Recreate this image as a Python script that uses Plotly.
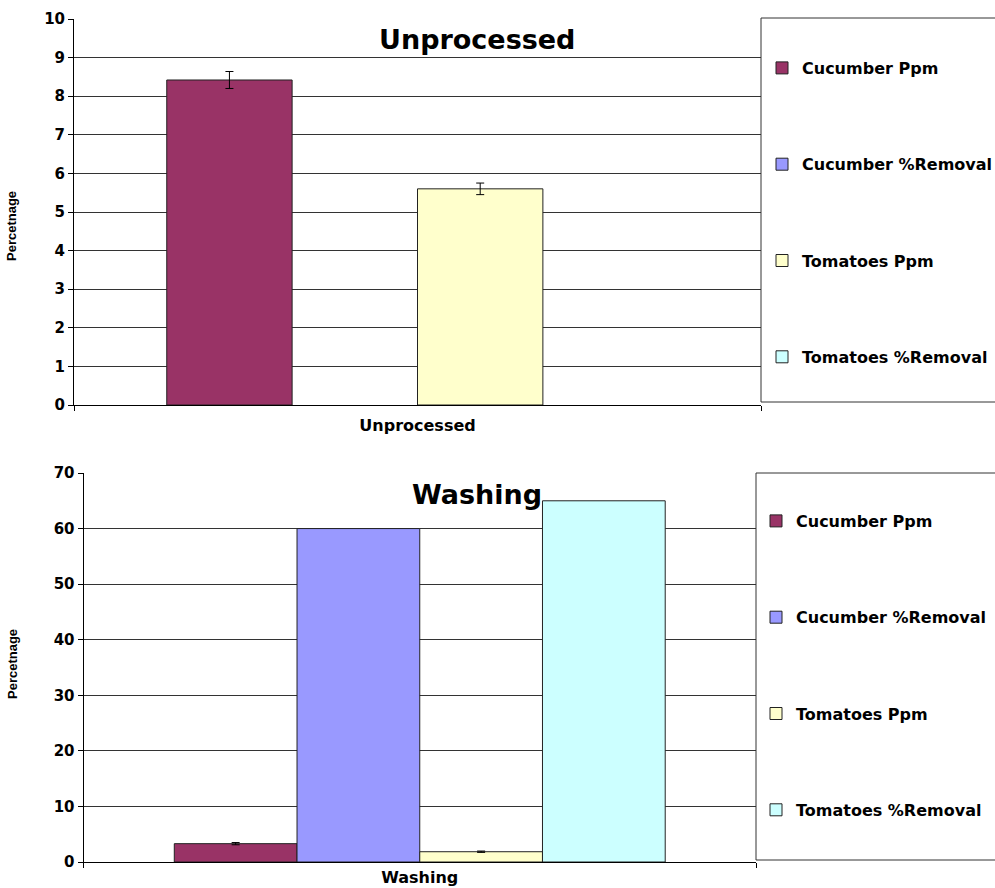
import plotly.graph_objects as go

# Data
series_names = ["Cucumber Ppm", "Cucumber %Removal", "Tomatoes Ppm", "Tomatoes %Removal"]
series_colors = ["#993366", "#9999FF", "#FFFFCC", "#CCFFFF"]

unprocessed_category = ["Unprocessed"]
unprocessed_values = [8.42, None, 5.60, None]
unprocessed_errors = [0.22, None, 0.15, None]

washing_category = ["Washing"]
washing_values = [3.3, 60, 1.85, 65]
washing_errors = [0.2, None, 0.12, None]

y_title = "Percetnage"
W, H = 995, 888
FONT = "DejaVu Sans"


def px_x(x):
    return x / W


def px_y(y):
    return (H - y) / H


fig = go.Figure()

panels = [
    (unprocessed_category, unprocessed_values, unprocessed_errors, "x", "y", "legend", "top"),
    (washing_category, washing_values, washing_errors, "x2", "y2", "legend2", "bot"),
]

for cats, vals, errs, xa, ya, leg, tag in panels:
    for name, color, v, e in zip(series_names, series_colors, vals, errs):
        err = None
        if e is not None:
            err = dict(type="data", array=[e], visible=True, color="black",
                       thickness=1, width=4)
        fig.add_trace(go.Bar(
            x=cats, y=[v], name=name,
            marker=dict(color=color, line=dict(color="#222222", width=1)),
            error_y=err,
            xaxis=xa, yaxis=ya,
            legend=leg, legendgroup=f"{tag}-{name}",
            hoverinfo="skip",
        ))

xtick_font = dict(family=FONT, size=16, color="black", weight="bold")
ytick_font = dict(family=FONT, size=15, color="black", weight="bold")
axis_common = dict(showline=True, linecolor="black", linewidth=1,
                   ticks="outside", ticklen=5, tickcolor="black",
                   zeroline=False, automargin=False)
legend_font = dict(family=FONT, size=16, color="black", weight="bold")

fig.update_layout(
    width=W, height=H,
    margin=dict(l=0, r=0, t=0, b=0, autoexpand=False),
    paper_bgcolor="white", plot_bgcolor="white",
    barmode="group", bargap=0.27, bargroupgap=0,
    font=dict(family=FONT, color="black"),
    xaxis=dict(domain=[px_x(74), px_x(761)], anchor="y", tickson="boundaries",
               showgrid=False, tickfont=xtick_font, ticklabelstandoff=6, **axis_common),
    yaxis=dict(domain=[px_y(405), px_y(19)], anchor="x", range=[0, 10], dtick=1,
               showgrid=True, gridcolor="#333333", gridwidth=1,
               tickfont=ytick_font, **axis_common),
    xaxis2=dict(domain=[px_x(83.5), px_x(756)], anchor="y2", tickson="boundaries",
                showgrid=False, tickfont=xtick_font, ticklabelstandoff=1, **axis_common),
    yaxis2=dict(domain=[px_y(862), px_y(473)], anchor="x2", range=[0, 70], dtick=10,
                showgrid=True, gridcolor="#333333", gridwidth=1,
                tickfont=ytick_font, **axis_common),
    legend=dict(x=px_x(762), y=px_y(51), xanchor="left", yanchor="top",
                bgcolor="rgba(0,0,0,0)", borderwidth=0, font=legend_font,
                traceorder="grouped", tracegroupgap=72.5, itemclick=False),
    legend2=dict(x=px_x(756), y=px_y(504), xanchor="left", yanchor="top",
                 bgcolor="rgba(0,0,0,0)", borderwidth=0, font=legend_font,
                 traceorder="grouped", tracegroupgap=72.5, itemclick=False),
    showlegend=True,
)

# Legend frames
for x0, y0, y1 in [(761, 18, 402), (756, 473, 860)]:
    fig.add_shape(type="rect", xref="paper", yref="paper",
                  x0=px_x(x0), x1=1.02, y0=px_y(y1), y1=px_y(y0),
                  line=dict(color="#333333", width=1), fillcolor="rgba(0,0,0,0)")

# Panel titles
for text, yc in [("Unprocessed", 40), ("Washing", 494)]:
    fig.add_annotation(text=f"<b>{text}</b>", xref="paper", yref="paper",
                       x=px_x(477), y=px_y(yc), xanchor="center", yanchor="middle",
                       showarrow=False, font=dict(family=FONT, size=27, color="black"))

# Y-axis titles
for yc in [226, 664]:
    fig.add_annotation(text=f"<b>{y_title}</b>", xref="paper", yref="paper",
                       x=px_x(12), y=px_y(yc), xanchor="center", yanchor="middle",
                       textangle=-90, showarrow=False,
                       font=dict(family="Liberation Sans", size=13, color="black"))

fig.write_html("out.html")
